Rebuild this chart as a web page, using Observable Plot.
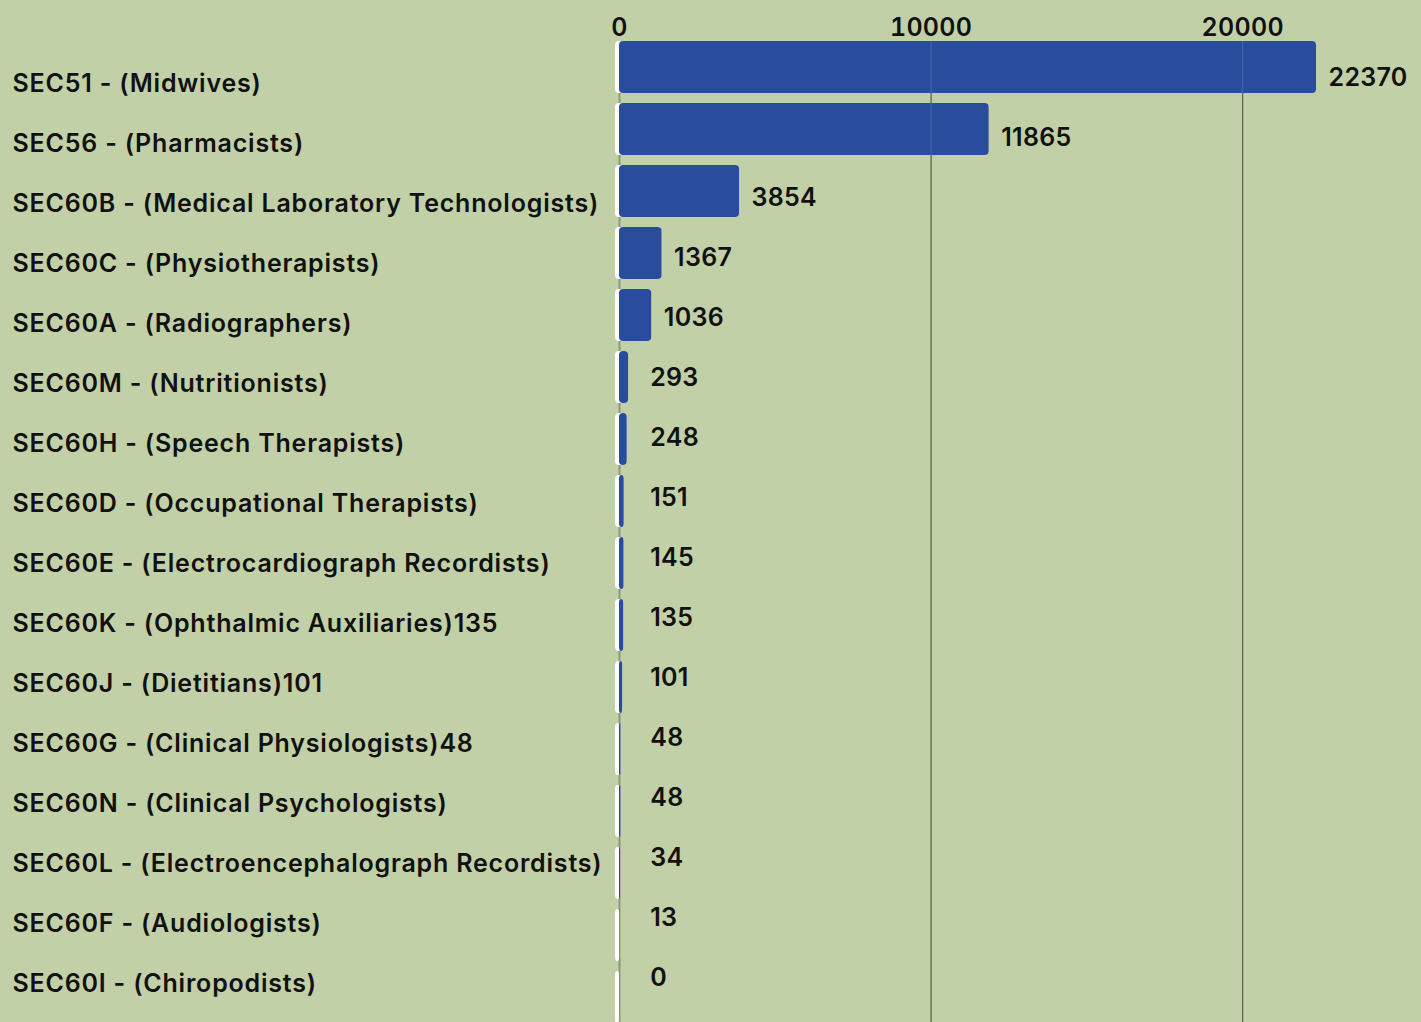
<!DOCTYPE html>
<html>
<head>
<meta charset="utf-8">
<script src="https://cdn.jsdelivr.net/npm/d3@7"></script>
<script src="https://cdn.jsdelivr.net/npm/@observablehq/plot@0.6"></script>
<style>
  html, body { margin: 0; padding: 0; background: #c2d0a7; }
  #wrap { position: relative; width: 1421px; height: 1022px; background: #c2d0a7; overflow: hidden; }
  #wrap > svg, #wrap > figure { position: absolute; left: 0; top: 0; margin: 0; }
  .cat text { letter-spacing: 0.8px; }
  .val text { letter-spacing: 0.3px; }
</style>
</head>
<body>
<div id="wrap"></div>
<script>
const categories = [
  "SEC51 - (Midwives)",
  "SEC56 - (Pharmacists)",
  "SEC60B - (Medical Laboratory Technologists)",
  "SEC60C - (Physiotherapists)",
  "SEC60A - (Radiographers)",
  "SEC60M - (Nutritionists)",
  "SEC60H - (Speech Therapists)",
  "SEC60D - (Occupational Therapists)",
  "SEC60E - (Electrocardiograph Recordists)",
  "SEC60K - (Ophthalmic Auxiliaries)135",
  "SEC60J - (Dietitians)101",
  "SEC60G - (Clinical Physiologists)48",
  "SEC60N - (Clinical Psychologists)",
  "SEC60L - (Electroencephalograph Recordists)",
  "SEC60F - (Audiologists)",
  "SEC60I - (Chiropodists)"
];
const values = [22370, 11865, 3854, 1367, 1036, 293, 248, 151, 145, 135, 101, 48, 48, 34, 13, 0];
const xTicks = [0, 10000, 20000];

const data = categories.map((c, i) => ({category: c, value: values[i]}));

const W = 1421, H = 1022;
const font = "Inter, 'Noto Sans', sans-serif";
const xScale = {domain: [0, 25000], axis: null};

const bars = Plot.plot({
  width: W,
  height: H,
  marginLeft: 619,
  marginRight: 23,
  marginTop: 31,
  marginBottom: -11,
  style: {background: "transparent", fontFamily: font},
  x: xScale,
  y: {domain: categories, padding: 0.16, axis: null},
  marks: [
    Plot.ruleX([0], {stroke: "#8a9a7a", strokeWidth: 2, insetTop: 10}),
    Plot.ruleX(xTicks.slice(1), {stroke: "#2e2e2e", strokeWidth: 1, insetTop: 10}),
    Plot.barX(data, {x: "value", y: "category", fill: "#ffffff", dx: -4, rx: 4, insetRight: -4}),
    Plot.barX(data, {x: "value", y: "category", fill: "#2a4c9d", rx: 4}),
    Plot.ruleX(xTicks.slice(1), {stroke: "#ffffff", strokeOpacity: 0.15, strokeWidth: 1, insetTop: 10}),
    Plot.axisX({anchor: "top", ticks: xTicks, tickSize: 0, tickPadding: -4, tickFormat: d => String(d), fontSize: 25, fontWeight: 600, fill: "#111", label: null, className: "val"})
  ]
});

const labels = Plot.plot({
  width: W,
  height: H,
  marginLeft: 619,
  marginRight: 23,
  marginTop: 80,
  marginBottom: 36,
  style: {background: "transparent", fontFamily: font},
  x: xScale,
  y: {type: "point", domain: categories, padding: 0, axis: null},
  marks: [
    Plot.text(data, {y: "category", text: "category", frameAnchor: "left", textAnchor: "start", dx: -607, fontSize: 25, fontWeight: 600, fill: "#111", className: "cat"}),
    Plot.text(data, {x: d => Math.max(d.value, 600), y: "category", text: d => String(d.value), textAnchor: "start", dx: 12, dy: -6, fontSize: 25, fontWeight: 600, fill: "#111", className: "val"})
  ]
});

const wrap = document.getElementById("wrap");
wrap.appendChild(bars);
labels.style.pointerEvents = "none";
wrap.appendChild(labels);
</script>
</body>
</html>
